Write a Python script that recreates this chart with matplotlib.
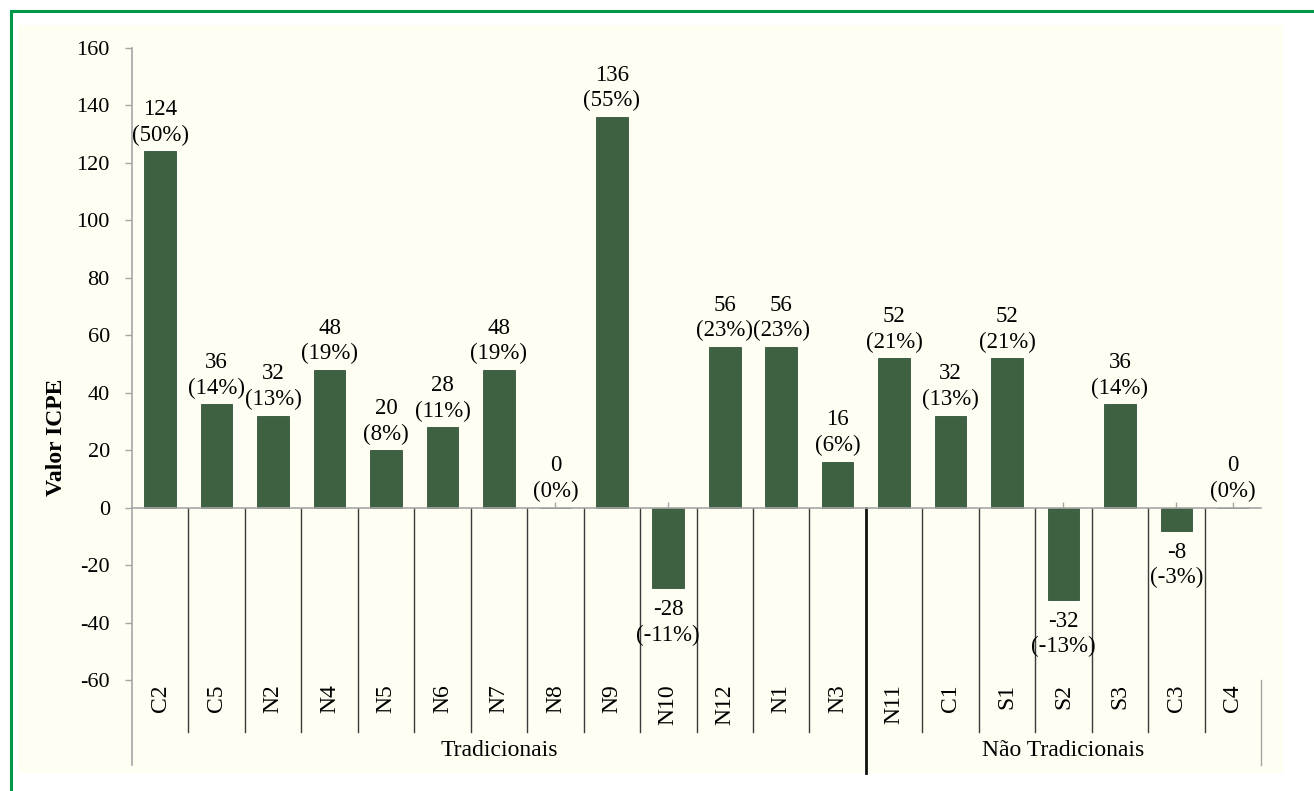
import matplotlib
matplotlib.use("Agg")
import matplotlib.pyplot as plt
from matplotlib.patches import Rectangle
from matplotlib.lines import Line2D

categories = ["C2", "C5", "N2", "N4", "N5", "N6", "N7", "N8", "N9", "N10",
              "N12", "N1", "N3", "N11", "C1", "S1", "S2", "S3", "C3", "C4"]
values = [124, 36, 32, 48, 20, 28, 48, 0, 136, -28,
          56, 56, 16, 52, 32, 52, -32, 36, -8, 0]
percents = [50, 14, 13, 19, 8, 11, 19, 0, 55, -11,
            23, 23, 6, 21, 13, 21, -13, 14, -3, 0]
group_names = ["Tradicionais", "Não Tradicionais"]
group_sizes = [13, 7]
y_ticks = [-60, -40, -20, 0, 20, 40, 60, 80, 100, 120, 140, 160]

FONT = "Liberation Serif"
FS = 16
BAR = "#3e6241"
CREAM = "#fefef2"
GREEN = "#00994c"
GRAY = "#a6a6a6"
DARK = "#3a3a3a"

W, H = 1314, 791
fig = plt.figure(figsize=(W / 100, H / 100), dpi=100, facecolor="white")

# background panel and green frame
fig.patches.append(Rectangle((18 / W, 1 - 773 / H), (1283 - 18) / W, (773 - 25) / H,
                             transform=fig.transFigure, facecolor=CREAM,
                             edgecolor="none", zorder=-10))
fig.lines.append(Line2D([10.5 / W, 10.5 / W], [0, 1 - 10.5 / H],
                        transform=fig.transFigure, color=GREEN, lw=2.2, zorder=-5))
fig.lines.append(Line2D([10.5 / W, 1], [1 - 10.5 / H, 1 - 10.5 / H],
                        transform=fig.transFigure, color=GREEN, lw=2.2, zorder=-5))

ax = fig.add_axes([132 / W, 1 - 680 / H, 1129 / W, 632 / H])
ax.set_facecolor("none")
ax.set_zorder(1)

n = len(categories)
x = list(range(n))
ax.bar(x, values, width=0.56, color=BAR, edgecolor="#33523a", linewidth=0.6, zorder=2)

ax.set_xlim(-0.5, n - 0.5)
ax.set_ylim(y_ticks[0], y_ticks[-1])
ax.set_yticks(y_ticks)
ax.set_yticklabels([str(t) for t in y_ticks], fontfamily=FONT, fontsize=FS)
ax.tick_params(axis="y", direction="out", length=5, width=1, color=GRAY, pad=11)
ax.set_xticks(x)
ax.set_xticklabels([])
ax.tick_params(axis="x", direction="in", length=4, width=1, color=GRAY)

for s in ["top", "right", "left"]:
    ax.spines[s].set_visible(False)
ax.spines["bottom"].set_position(("data", 0))
ax.spines["bottom"].set_color(GRAY)
ax.spines["bottom"].set_linewidth(1.2)
ax.spines["bottom"].set_zorder(3)

# left axis line extended into label area
ax.plot([-0.5, -0.5], [y_ticks[-1], -89.6], color=GRAY, lw=1.2, clip_on=False, zorder=3)
# right end line in label area
ax.plot([n - 0.5, n - 0.5], [-60, -89.6], color=GRAY, lw=1.0, clip_on=False, zorder=3)

# category separators
bounds = []
acc = 0
for g in group_sizes[:-1]:
    acc += g
    bounds.append(acc - 0.5)
for i in range(n - 1):
    b = i + 0.5
    if b in bounds:
        ax.plot([b, b], [0, -92.4], color="#111111", lw=2.0, clip_on=False, zorder=3)
    else:
        ax.plot([b, b], [0, -78.0], color=DARK, lw=1.0, clip_on=False, zorder=3)

# category labels (aligned at top, reading upward)
for i, c in enumerate(categories):
    ax.text(i, -61.4, c, rotation=90, ha="center", va="top",
            fontfamily=FONT, fontsize=17, clip_on=False)

# group labels
start = 0
for gname, gs in zip(group_names, group_sizes):
    ax.text(start + (gs - 1) / 2, -84.6, gname, ha="center", va="center",
            fontfamily=FONT, fontsize=17, clip_on=False)
    start += gs

# data labels
for i, (v, p) in enumerate(zip(values, percents)):
    txt = f"{v}\n({p}%)"
    if v >= 0:
        ax.annotate(txt, (i, v), xytext=(0, 4), textcoords="offset points",
                    ha="center", va="bottom", fontfamily=FONT, fontsize=16.5,
                    linespacing=1.28, annotation_clip=False)
    else:
        ax.annotate(txt, (i, v), xytext=(0, -8), textcoords="offset points",
                    ha="center", va="top", fontfamily=FONT, fontsize=16.5,
                    linespacing=1.28, annotation_clip=False)

fig.text(56 / W, 1 - 437 / H, "Valor ICPE", rotation=90, ha="center", va="center",
         fontfamily=FONT, fontsize=17, fontweight="bold")

fig.savefig("out.png", dpi=100)
